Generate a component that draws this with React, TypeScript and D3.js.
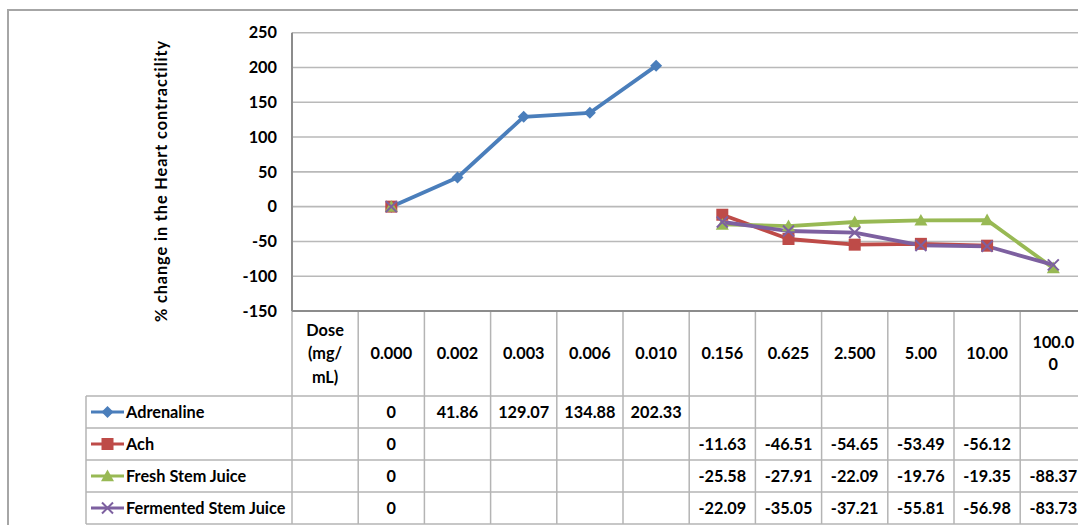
import React from "react";
import * as d3 from "d3";

// ---- data ----
const categoryLabels: string[][] = [
  ["Dose", "(mg/", "mL)"],
  ["0.000"], ["0.002"], ["0.003"], ["0.006"], ["0.010"],
  ["0.156"], ["0.625"], ["2.500"], ["5.00"], ["10.00"], ["100.0", "0"],
];
const seriesNames = ["Adrenaline", "Ach", "Fresh Stem Juice", "Fermented Stem Juice"];
const adrenaline: (number | null)[] = [null, 0, 41.86, 129.07, 134.88, 202.33, null, null, null, null, null, null];
const ach: (number | null)[] = [null, 0, null, null, null, null, -11.63, -46.51, -54.65, -53.49, -56.12, null];
const freshJuice: (number | null)[] = [null, 0, null, null, null, null, -25.58, -27.91, -22.09, -19.76, -19.35, -88.37];
const fermentedJuice: (number | null)[] = [null, 0, null, null, null, null, -22.09, -35.05, -37.21, -55.81, -56.98, -83.73];
const yTicks = [-150, -100, -50, 0, 50, 100, 150, 200, 250];
const yTitle = "% change in the Heart contractility";

const seriesData = [adrenaline, ach, freshJuice, fermentedJuice];
const seriesColors = ["#4a7ebb", "#be4b48", "#98b954", "#7d60a0"];
const seriesMarkers = ["diamond", "square", "triangle", "x"];

// ---- layout ----
const W = 1078, H = 525;
const plotLeft = 292, colW = 66.2;
const plotTop = 32.7, plotBottom = 311;
const headerBottom = 396, rowH = 32;
const legendLeft = 86;
const FONT = "Lato, 'Open Sans', sans-serif";
const FS = 16.3;

function Marker({ type, x, y, color }: { type: string; x: number; y: number; color: string }) {
  if (type === "diamond") {
    const r = 6;
    return <path d={`M${x},${y - r}L${x + r},${y}L${x},${y + r}L${x - r},${y}Z`} fill={color} />;
  }
  if (type === "square") {
    const r = 6;
    return <rect x={x - r} y={y - r} width={2 * r} height={2 * r} fill={color} />;
  }
  if (type === "triangle") {
    const r = 6.5;
    return <path d={`M${x},${y - r}L${x + r},${y + r * 0.8}L${x - r},${y + r * 0.8}Z`} fill={color} />;
  }
  const r = 5.5;
  return (
    <path d={`M${x - r},${y - r}L${x + r},${y + r}M${x - r},${y + r}L${x + r},${y - r}`} stroke={color} strokeWidth={2} fill="none" />
  );
}

export default function App() {
  const idx = categoryLabels.map((_, i) => i);
  const x = d3.scaleBand<number>().domain(idx).range([plotLeft, plotLeft + colW * categoryLabels.length]);
  const cx = (i: number) => (x(i) as number) + x.bandwidth() / 2;
  const y = d3.scaleLinear().domain([-150, 250]).range([plotBottom, plotTop]);

  const line = d3
    .line<number | null>()
    .defined((d) => d !== null)
    .x((_, i) => cx(i))
    .y((d) => y(d as number));

  const rowTop = (r: number) => headerBottom + r * rowH;
  const gridColor = "#b9b9b9";
  const tableColor = "#b4b4b4";

  return (
    <svg width={W} height={H} style={{ position: "absolute", left: 0, top: 0, background: "#fff" }} fontFamily={FONT}>
      <rect x={0} y={0} width={W} height={H} fill="#fff" />
      {/* outer chart border */}
      <rect x={8} y={10} width={W + 20} height={H + 20} fill="none" stroke="#a6a6a6" strokeWidth={2} />

      {/* gridlines */}
      {yTicks.map((t) => (
        <line key={t} x1={plotLeft} x2={W + 10} y1={y(t)} y2={y(t)} stroke={gridColor} strokeWidth={1.6} />
      ))}
      {/* y tick labels */}
      {yTicks.map((t) => (
        <text key={"l" + t} x={277} y={y(t)} dy="0.35em" textAnchor="end" fontSize={FS} fontWeight="bold" fill="#000">
          {t}
        </text>
      ))}
      {/* y title */}
      <text
        transform={`translate(161,181) rotate(-90)`}
        textAnchor="middle"
        dy="0.35em"
        fontSize={16.3}
        letterSpacing={0.9}
        fontWeight="bold"
        fill="#000"
      >
        {yTitle}
      </text>

      {/* table: header vertical lines */}
      {idx.map((i) => (
        <line key={"hv" + i} x1={x(i) as number} x2={x(i) as number} y1={plotBottom} y2={rowTop(4)} stroke={tableColor} strokeWidth={1.5} />
      ))}
      {/* legend column borders */}
      <line x1={legendLeft} x2={legendLeft} y1={headerBottom} y2={rowTop(4)} stroke={tableColor} strokeWidth={1.5} />
      {[0, 1, 2, 3, 4].map((r) => (
        <line key={"hr" + r} x1={legendLeft} x2={W + 10} y1={rowTop(r)} y2={rowTop(r)} stroke={tableColor} strokeWidth={1.5} />
      ))}
      {/* y axis line & plot bottom */}
      <line x1={plotLeft} x2={plotLeft} y1={plotTop} y2={plotBottom} stroke="#8c8c8c" strokeWidth={2} />
      <line x1={plotLeft} x2={W + 10} y1={plotBottom} y2={plotBottom} stroke="#8c8c8c" strokeWidth={2} />

      {/* header labels */}
      {categoryLabels.map((lines, i) => {
        const n = lines.length;
        const lh = i === 0 ? 23.5 : 22;
        const mid = (plotBottom + headerBottom) / 2;
        return (
          <text key={"c" + i} textAnchor="middle" fontSize={FS} fontWeight="bold" fill="#000">
            {lines.map((s, k) => (
              <tspan key={k} x={cx(i)} y={mid + (k - (n - 1) / 2) * lh} dy="0.35em">
                {s}
              </tspan>
            ))}
          </text>
        );
      })}

      {/* legend rows + values */}
      {seriesNames.map((name, r) => {
        const cy = rowTop(r) + rowH / 2;
        return (
          <g key={name}>
            <line x1={91} x2={124} y1={cy} y2={cy} stroke={seriesColors[r]} strokeWidth={3} />
            <Marker type={seriesMarkers[r]} x={107.5} y={cy} color={seriesColors[r]} />
            <text x={126} y={cy} dy="0.35em" fontSize={FS} fontWeight="bold" fill="#000">
              {name}
            </text>
            {seriesData[r].map((v, i) =>
              v === null ? null : (
                <text key={i} x={cx(i)} y={cy} dy="0.35em" textAnchor="middle" fontSize={FS} fontWeight="bold" fill="#000">
                  {String(v)}
                </text>
              )
            )}
          </g>
        );
      })}

      {/* series lines */}
      {seriesData.map((s, r) => (
        <path key={"p" + r} d={line(s) || ""} fill="none" stroke={seriesColors[r]} strokeWidth={3.8} strokeLinejoin="round" />
      ))}
      {/* markers */}
      {seriesData.map((s, r) =>
        s.map((v, i) =>
          v === null ? null : <Marker key={"m" + r + "-" + i} type={seriesMarkers[r]} x={cx(i)} y={y(v)} color={seriesColors[r]} />
        )
      )}
    </svg>
  );
}
